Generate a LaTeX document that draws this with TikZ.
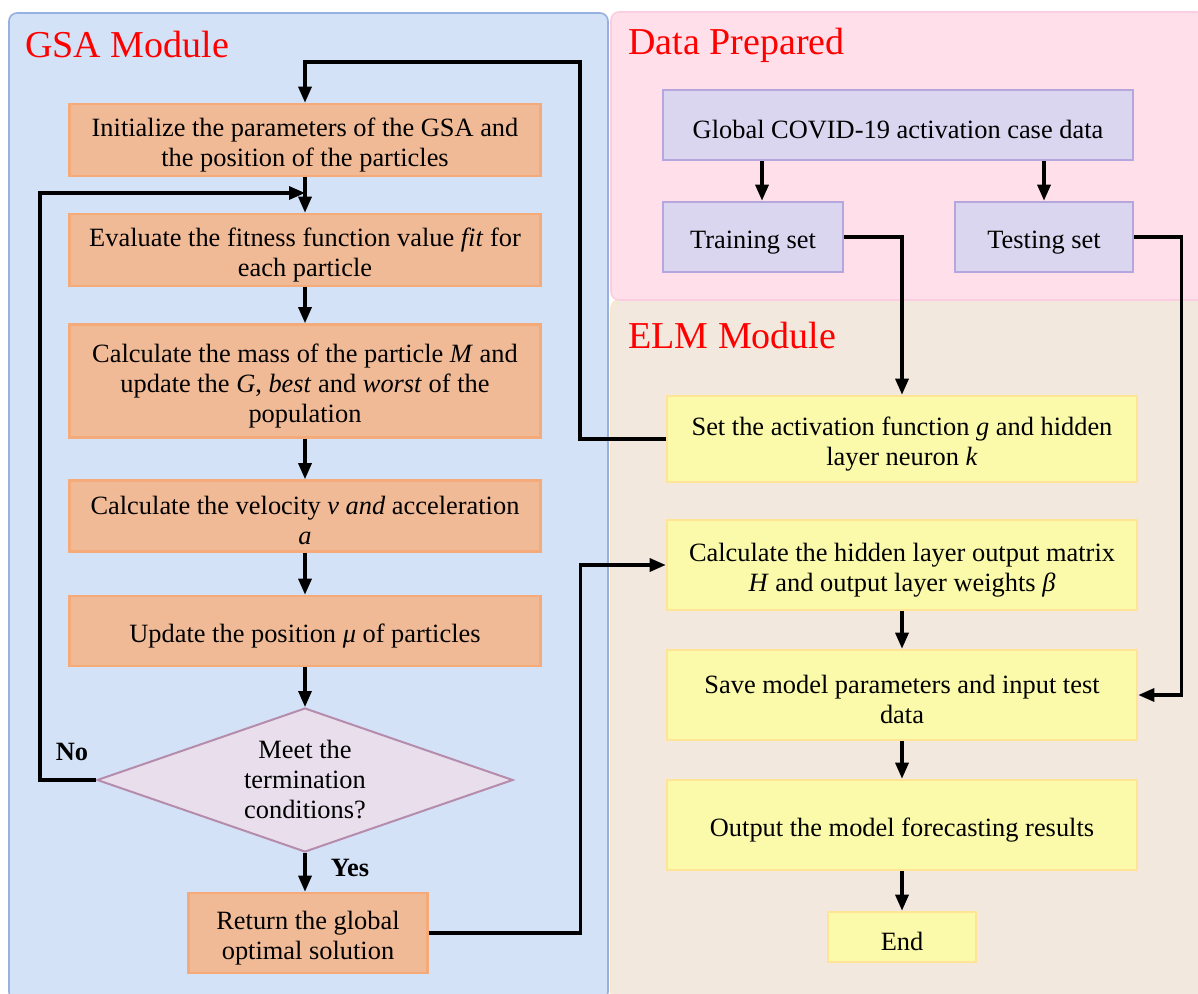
\documentclass[tikz,border=0pt]{standalone}
\usepackage{fontspec}
\setmainfont{Liberation Serif}
\usetikzlibrary{arrows.meta,shapes.geometric,calc}
\definecolor{gsafill}{RGB}{212,226,247}
\definecolor{gsaline}{RGB}{150,176,226}
\definecolor{pinkfill}{RGB}{255,224,234}
\definecolor{pinkline}{RGB}{250,206,224}
\definecolor{beigefill}{RGB}{242,232,222}
\definecolor{beigeline}{RGB}{250,232,196}
\definecolor{orfill}{RGB}{241,186,150}
\definecolor{orline}{RGB}{245,170,122}
\definecolor{lavfill}{RGB}{218,214,240}
\definecolor{lavline}{RGB}{182,166,222}
\definecolor{yelfill}{RGB}{250,250,170}
\definecolor{yelline}{RGB}{255,228,150}
\definecolor{diafill}{RGB}{232,222,236}
\definecolor{dialine}{RGB}{182,140,172}
\newcommand{\firststrut}{\rule{0pt}{14pt}}
\tikzset{
  panel/.style={rounded corners=4pt,line width=0.8pt},
  title/.style={anchor=west,text=red,font=\fontsize{19}{22}\selectfont,inner sep=0pt},
  txt/.style={align=center,font=\fontsize{13.2}{15}\selectfont,inner sep=0pt},
  boxtxt/.style={txt,execute at begin node={\rule{0pt}{14pt}}},
  obox/.style={boxtxt,fill=orfill,draw=orline,line width=1.3pt},
  lbox/.style={boxtxt,fill=lavfill,draw=lavline,line width=1.3pt},
  ybox/.style={boxtxt,fill=yelfill,draw=yelline,line width=1.3pt},
  dia/.style={diamond,fill=diafill,draw=dialine,line width=1pt,inner sep=0pt},
  arr/.style={line width=1.6pt,-{Triangle[length=8pt,width=6.5pt]}},
  yn/.style={font=\bfseries\fontsize{13.2}{15}\selectfont,inner sep=0pt}
}
\begin{document}
\begin{tikzpicture}[x=0.5pt,y=-0.5pt]
\useasboundingbox (0,0) rectangle (1198,994);
% panels
\draw[panel,fill=gsafill,draw=gsaline] (9,13) rectangle (608,1000);
\draw[panel,fill=beigefill,draw=beigeline] (611,300) rectangle (1205,1000);
\draw[panel,fill=pinkfill,draw=pinkline] (611,12) rectangle (1205,300);
\node[title] (tgsa) at (25,45) {GSA Module};
\node[title] (tdata) at (628,45) {Data Prepared};
\node[title] (telm) at (628,336) {ELM Module};
% GSA boxes
\node[obox,minimum width=235.5pt,minimum height=36pt] (init) at (305,140) {\firststrut Initialize the parameters of the GSA and\\the position of the particles};
\node[obox,minimum width=235.5pt,minimum height=36pt] (eval) at (305,250) {\firststrut Evaluate the fitness function value \textit{fit} for\\each particle};
\node[obox,minimum width=235.5pt,minimum height=56.5pt] (mass) at (305,381) {\firststrut Calculate the mass of the particle \textit{M} and\\update the \textit{G}, \textit{best} and \textit{worst} of the\\population};
\node[obox,minimum width=235.5pt,minimum height=35.5pt] (vel) at (305,516) {\firststrut Calculate the velocity \textit{v and} acceleration\\\textit{a}};
\node[obox,minimum width=235.5pt,minimum height=35pt] (upd) at (305,631) {Update the position \textit{μ} of particles};
\node[dia,minimum width=208pt,minimum height=72pt,
  label={[txt]center:Meet the\\termination\\conditions?}] (dec) at (305,780) {};
\node[obox,minimum width=119.5pt,minimum height=40pt] (ret) at (308,933) {\firststrut Return the global\\optimal solution};
\node[yn] (no) at (72,752) {No};
\node[yn] (yes) at (350,868) {Yes};
% Data boxes
\node[lbox,minimum width=235pt,minimum height=35pt] (glob) at (898,125) {Global COVID-19 activation case data};
\node[lbox,minimum width=90pt,minimum height=35pt] (train) at (753,237) {Training set};
\node[lbox,minimum width=89pt,minimum height=35pt] (test) at (1044,237) {Testing set};
% ELM boxes
\node[ybox,minimum width=235pt,minimum height=43pt] (set) at (902,439) {\firststrut Set the activation function \textit{g} and hidden\\layer neuron \textit{k}};
\node[ybox,minimum width=235pt,minimum height=45pt] (hid) at (902,565) {\firststrut Calculate the hidden layer output matrix\\\textit{H} and output layer weights \textit{β}};
\node[ybox,minimum width=235pt,minimum height=45pt] (save) at (902,695) {\firststrut Save model parameters and input test\\data};
\node[ybox,minimum width=235pt,minimum height=45pt] (out) at (902,825) {Output the model forecasting results};
\node[ybox,minimum width=74pt,minimum height=25pt] (end) at (902,937) {End};
% connectors GSA
\coordinate (join) at (305,193);
\draw[arr] (init.south) -- (eval.north);
\draw[arr] (eval.south) -- (mass.north);
\draw[arr] (mass.south) -- (vel.north);
\draw[arr] (vel.south) -- (upd.north);
\draw[arr] (upd.south) -- (dec.north);
\draw[arr] (dec.south) -- (ret.north -| dec.south);
\draw[arr] (dec.west) -- ++(-56,0) |- (join);
% data connectors
\draw[arr] (glob.south -| 762,0) -- (train.north -| 762,0);
\draw[arr] (glob.south -| test.north) -- (test.north);
\draw[arr] (train.east) -| (set.north);
\draw[arr] (test.east) -- ++(47,0) |- (save.east);
% ELM connectors
\draw[arr] (set.west) -| (580,62) -| (init.north);
\draw[arr] (ret.east) -- ++(152,0) |- (hid.west);
\draw[arr] (hid.south) -- (save.north);
\draw[arr] (save.south) -- (out.north);
\draw[arr] (out.south) -- (end.north);
\end{tikzpicture}
\end{document}
